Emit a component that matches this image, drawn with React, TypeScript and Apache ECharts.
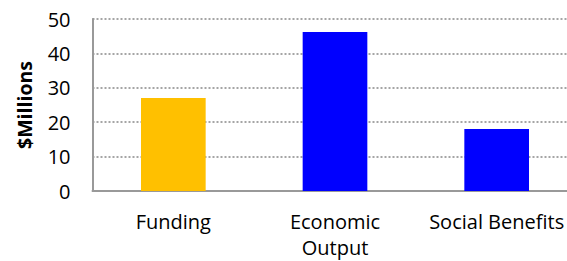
import React, { useEffect, useRef } from "react";
import * as echarts from "echarts";

const categories = ["Funding", "Economic Output", "Social Benefits"];
const values = [27, 46.2, 18];
const barColors = ["#FFC000", "#0000FF", "#0000FF"];
const yTicks = { min: 0, max: 50, interval: 10 };
const yTitle = "$Millions";

export default function App() {
  const ref = useRef<HTMLDivElement>(null);
  useEffect(() => {
    const chart = echarts.init(ref.current!, null, { renderer: "svg" });
    chart.setOption({
      animation: false,
      grid: { left: 92.5, width: 485, top: 19, height: 172, outerBoundsMode: "none", containLabel: false },
      xAxis: {
        type: "category",
        data: categories,
        axisLine: { lineStyle: { color: "#999", width: 2 } },
        axisTick: { show: false },
        axisLabel: {
          color: "#000",
          fontFamily: "Open Sans",
          fontSize: 20,
          margin: 17,
          lineHeight: 26,
          interval: 0,
          hideOverlap: false,
          formatter: (v: string) => v.replace("Economic ", "Economic\n"),
        },
      },
      yAxis: {
        type: "value",
        min: yTicks.min,
        max: yTicks.max,
        interval: yTicks.interval,
        name: yTitle,
        nameLocation: "middle",
        nameGap: 58,
        nameTextStyle: { color: "#000", fontFamily: "Open Sans", fontSize: 19.5, fontWeight: "bold" },
        axisLine: { show: true, lineStyle: { color: "#999", width: 2 } },
        axisTick: { show: false },
        axisLabel: { color: "#000", fontFamily: "Open Sans", fontSize: 20, margin: 22 },
        splitLine: { lineStyle: { color: "#888", type: [2, 2], width: 1.5 } },
      },
      series: [
        {
          type: "bar",
          barWidth: "40%",
          data: values.map((v, i) => ({ value: v, itemStyle: { color: barColors[i] } })),
        },
      ],
    });
    return () => chart.dispose();
  }, []);
  return <div ref={ref} style={{ width: 567, height: 261, position: "absolute", left: 0, top: 0 }} />;
}
